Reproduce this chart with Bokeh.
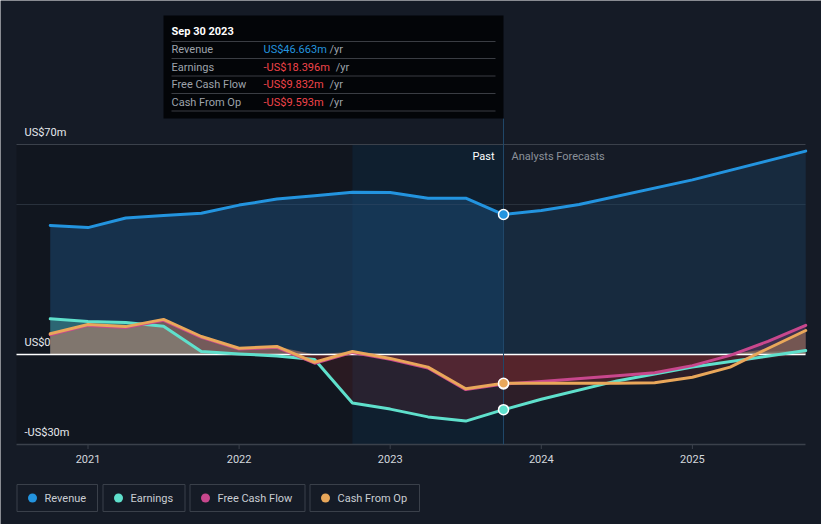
import numpy as np
from bokeh.plotting import figure
from bokeh.models import Range1d
from bokeh.embed import file_html
from bokeh.resources import INLINE
from bokeh.core.properties import value

# ---------------- data (US$ m, time in decimal years) ----------------
past_t = [2020.75, 2021.0, 2021.25, 2021.5, 2021.75, 2022.0, 2022.25,
          2022.5, 2022.75, 2023.0, 2023.25, 2023.5, 2023.75]
revenue_past = [43.0, 42.3, 45.5, 46.3, 47.1, 49.8, 51.8, 52.9, 54.1, 54.0, 52.1, 52.1, 46.663]
earnings_past = [11.9, 11.0, 10.7, 9.4, 1.0, 0.2, -0.5, -1.7, -16.2, -18.2, -20.8, -22.2, -18.396]
fcf_past = [6.6, 9.7, 9.0, 11.4, 5.7, 1.8, 2.4, -2.9, 0.7, -1.6, -4.5, -11.7, -9.832]
cfo_past = [6.9, 10.0, 9.3, 11.7, 6.0, 2.1, 2.7, -2.6, 1.0, -1.3, -4.2, -11.4, -9.593]

rev_fc_t = [2023.75, 2024.0, 2024.25, 2025.0, 2025.75]
revenue_fc = [46.663, 48.0, 50.0, 58.2, 67.8]
earn_fc_t = [2023.75, 2024.0, 2024.5, 2025.0, 2025.75]
earnings_fc = [-18.396, -14.9, -8.8, -4.2, 1.3]
cf_fc_t = [2023.75, 2024.0, 2024.5, 2024.75, 2025.0, 2025.25, 2025.5, 2025.75]
fcf_fc = [-9.832, -9.0, -7.1, -6.1, -3.7, -0.3, 4.4, 9.7]
cfo_fc = [-9.593, -9.6, -9.6, -9.4, -7.6, -4.2, 2.0, 8.0]

present = 2023.75
past_start = 2022.75
present_label = "Sep 30 2023"

year_ticks = [2021, 2022, 2023, 2024, 2025]
y_label_values = [70, 0, -30]
y_label_texts = ["US$70m", "US$0", "-US$30m"]
grid_values = [70, 50]

series_names = ["Revenue", "Earnings", "Free Cash Flow", "Cash From Op"]
series_colors = ["#2394df", "#5fe0cc", "#c8478d", "#e9a75a"]
current_values = [revenue_past[-1], earnings_past[-1], fcf_past[-1], cfo_past[-1]]

# ---------------- styling / layout ----------------
BG = "#151b26"
NEG = "#e23c3c"
FONT = "Roboto"
W, H = 821, 524
X0, X1 = 2020.5268, 2025.7485   # value range of the plotting area
Y0, Y1 = -30, 118
FL, FW, FT, FH = 16, 789, 0, 444  # plotting area in px (left, width, top, height)


def sx(px):
    return X0 + (px - FL) / FW * (X1 - X0)


def sy(py):
    return Y1 - (py - FT) / FH * (Y1 - Y0)


p = figure(width=W, height=H, output_backend="svg", toolbar_location=None,
           x_range=Range1d(sx(0), sx(W)), y_range=Range1d(sy(H), sy(0)),
           min_border=0, background_fill_color=BG, border_fill_color=BG,
           outline_line_color=None)
p.axis.visible = False
p.grid.visible = False

# background regions
p.quad(left=X0, right=past_start, bottom=Y0, top=grid_values[0], fill_color="#0d1119",
       fill_alpha=0.45, line_color=None)
p.quad(left=past_start, right=present, bottom=Y0, top=grid_values[0], fill_color="#0b2236",
       fill_alpha=0.55, line_color=None)

# grid lines
p.segment(x0=[X0] * 2, x1=[X1] * 2, y0=grid_values, y1=grid_values,
          line_color=["#3b414b", "#29313c"], line_width=1)

# fills
rev_t = past_t + rev_fc_t[1:]
p.varea(x=past_t, y1=0, y2=revenue_past, fill_color="#1d5282", fill_alpha=0.45)
p.varea(x=rev_fc_t, y1=0, y2=revenue_fc, fill_color="#1d4a74", fill_alpha=0.32)


def draw_fill(t, v, color, a_pos, a_neg):
    v = np.array(v, dtype=float)
    p.varea(x=t, y1=0, y2=np.maximum(v, 0), fill_color=color, fill_alpha=a_pos)
    p.varea(x=t, y1=np.minimum(v, 0), y2=0, fill_color=NEG, fill_alpha=a_neg)


draw_fill(past_t + earn_fc_t[1:], earnings_past + earnings_fc[1:], series_colors[1], 0.3, 0.12)
draw_fill(past_t + cf_fc_t[1:], fcf_past + fcf_fc[1:], series_colors[2], 0.22, 0.12)
draw_fill(past_t + cf_fc_t[1:], cfo_past + cfo_fc[1:], series_colors[3], 0.32, 0.12)

# zero line
p.segment(x0=[X0], x1=[X1], y0=[0], y1=[0], line_color="#ffffff", line_width=1.5)

# x axis (line, ticks, labels)
p.segment(x0=[X0], x1=[X1], y0=[Y0], y1=[Y0], line_color="#3b414b", line_width=1.5)
p.segment(x0=year_ticks, x1=year_ticks, y0=[Y0] * len(year_ticks),
          y1=[sy(448.5)] * len(year_ticks), line_color="#3b414b", line_width=1)
p.text(x=year_ticks, y=[Y0] * len(year_ticks), text=[str(t) for t in year_ticks],
       text_font=value(FONT), text_font_size="11px", text_color="#d3d7dd",
       text_align="center", text_baseline="middle", y_offset=14)

# present vertical line
p.segment(x0=present, x1=present, y0=Y0, y1=sy(118), line_color="#21496a", line_width=1)

# lines
LW = 3
p.line(rev_t, revenue_past + revenue_fc[1:], line_color=series_colors[0], line_width=LW,
       line_join="round", line_cap="round")
p.line(past_t + earn_fc_t[1:], earnings_past + earnings_fc[1:], line_color=series_colors[1],
       line_width=LW, line_join="round", line_cap="round")
p.line(past_t + cf_fc_t[1:], fcf_past + fcf_fc[1:], line_color=series_colors[2], line_width=LW,
       line_join="round", line_cap="round")
p.line(past_t + cf_fc_t[1:], cfo_past + cfo_fc[1:], line_color=series_colors[3], line_width=LW,
       line_join="round", line_cap="round")

# markers at present
p.scatter(x=[present] * 4, y=current_values, fill_color=series_colors, line_color="#ffffff",
          line_width=1.5, size=10)

# y labels
p.text(x=[sx(24)] * 3, y=y_label_values, text=y_label_texts, text_font=value(FONT),
       text_font_size="11px", text_color="#e6e9ee", text_baseline="middle", y_offset=-12)

# Past / Analysts Forecasts
p.text(x=[present], y=[grid_values[0]], text=["Past"], text_font=value(FONT), text_font_size="11px",
       text_color="#ffffff", text_align="right", text_baseline="middle", x_offset=-9, y_offset=12)
p.text(x=[present], y=[grid_values[0]], text=["Analysts Forecasts"], text_font=value(FONT),
       text_font_size="11px", text_color="#8b919a", text_align="left", text_baseline="middle",
       x_offset=8, y_offset=12)

# tooltip box
p.quad(left=sx(163), right=sx(503), top=sy(15), bottom=sy(118), fill_color="#030508",
       line_color=None)
p.text(x=[sx(171)], y=[sy(31)], text=[present_label], text_font=value(FONT), text_font_size="11px",
       text_color="#ffffff", text_baseline="middle", text_font_style="bold")
sep_y = [41, 58, 75.5, 93, 110.5]
p.segment(x0=[sx(171)] * 5, x1=[sx(495)] * 5, y0=[sy(v) for v in sep_y], y1=[sy(v) for v in sep_y],
          line_color="#3a3d43", line_width=1)
row_y = [49, 66.5, 84, 101.5]


def fmt(v):
    s = "US$%.3fm" % abs(v)
    return ("-" + s) if v < 0 else s


vals = [fmt(v) for v in current_values]
val_cols = ["#2394df" if v >= 0 else "#f0444a" for v in current_values]
p.text(x=[sx(171)] * 4, y=[sy(v) for v in row_y], text=series_names, text_font=value(FONT),
       text_font_size="11px", text_color="#9ea3ab", text_baseline="middle")
p.text(x=[sx(263)] * 4, y=[sy(v) for v in row_y], text=vals, text_font=value(FONT),
       text_font_size="11px", text_color=val_cols, text_baseline="middle")
p.text(x=[sx(263 + 6.2 * len(s) + 4) for s in vals], y=[sy(v) for v in row_y], text=["/yr"] * 4,
       text_font=value(FONT), text_font_size="11px", text_color="#9ea3ab", text_baseline="middle")

# ---------------- legend ----------------
box_l = [16.5, 102.5, 189.5, 309.5]
box_r = [97, 184.5, 304.5, 419]
p.quad(left=[sx(v) for v in box_l], right=[sx(v) for v in box_r], top=[sy(484)] * 4,
       bottom=[sy(511)] * 4, fill_color=None, line_color="#3a404a", line_width=1)
p.scatter(x=[sx(v + 15.5) for v in box_l], y=[sy(497.5)] * 4, fill_color=series_colors,
          line_color=None, size=9)
p.text(x=[sx(v + 27.5) for v in box_l], y=[sy(497.5)] * 4, text=series_names,
       text_font=value(FONT), text_font_size="11px", text_color="#c9cdd3", text_baseline="middle")

open("out.html", "w").write(file_html(p, INLINE))
